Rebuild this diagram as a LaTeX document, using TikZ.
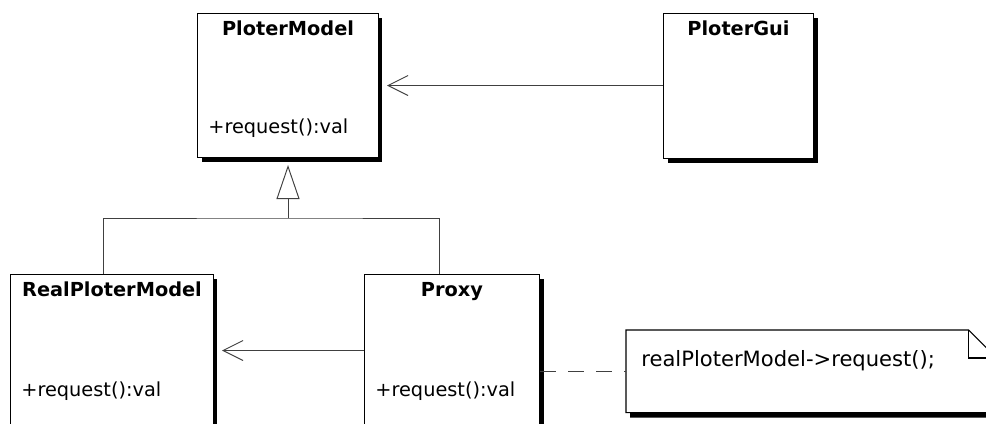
\documentclass[tikz,border=0pt]{standalone}
\usepackage{fontspec}
\setmainfont{DejaVu Sans}
\usetikzlibrary{arrows.meta,shadows,positioning,calc}

\begin{document}
\begin{tikzpicture}
	[
		x=0.02cm, y=-0.02cm,
		box/.style = {shape=rectangle, draw=black, line width=0.6pt, fill=white, anchor=north west, inner sep=0pt,
			drop shadow={shadow xshift=0.08cm, shadow yshift=-0.08cm, fill=black, opacity=1}},
		classname/.style = {font=\fontsize{11}{13}\selectfont\bfseries, inner sep=0pt, anchor=base},
		classop/.style = {font=\fontsize{11}{13}\selectfont, inner sep=0pt, anchor=base west},
		link/.style = {draw=black!75, line width=0.55pt},
		assoc/.style = {link, -{Straight Barb[length=0.4cm, width=0.4cm]}, shorten >=0.16cm},
		inherit/.style = {link, -{Triangle[open, fill=white, length=0.68cm, width=0.46cm]}, shorten >=0.14cm}
	]
	
	\useasboundingbox (0,0) rectangle (986,423);
	\clip (0,0) rectangle (986,423);
	
	% top row
	\node [box, minimum width=3.62cm, minimum height=2.88cm] (model) at (197,13) {};
	\node [classname] (modelname) at ($(model.north)+(0,22)$) {PloterModel};
	\node [classop] (modelop) at ($(model.north west)+(11,120)$) {+request():val};
	
	\node [box, minimum width=3cm, minimum height=2.9cm] (gui) at (663,13) {};
	\node [classname] (guiname) at ($(gui.north)+(0,22)$) {PloterGui};
	
	% bottom row
	\node [box, minimum width=4.06cm, minimum height=3.04cm] (real) at (10,274) {};
	\node [classname] (realname) at ($(real.north)+(0,22)$) {RealPloterModel};
	\node [classop] (realop) at ($(real.north west)+(11,122)$) {+request():val};
	
	\node [box, minimum width=3.5cm, minimum height=3.04cm] (proxy) at (364,274) {};
	\node [classname] (proxyname) at ($(proxy.north)+(0,22)$) {Proxy};
	\node [classop] (proxyop) at ($(proxy.north west)+(11,122)$) {+request():val};
	
	% note
	\node [shape=rectangle, inner sep=0pt, anchor=north west, minimum width=7.4cm, minimum height=1.64cm] (note) at (626,330) {};
	\fill [black] ([shift={(4,5)}]note.north west) -- ([shift={(-24,5)}]note.north east) -- ([shift={(4,33)}]note.north east) -- ([shift={(4,5)}]note.south east) -- ([shift={(4,5)}]note.south west) -- cycle;
	\draw [fill=white, line width=0.6pt] (note.north west) -- ([xshift=-0.56cm]note.north east) -- ([yshift=-0.56cm]note.north east) -- (note.south east) -- (note.south west) -- cycle;
	\draw [line width=0.6pt] ([xshift=-0.56cm]note.north east) |- ([yshift=-0.56cm]note.north east);
	\node [classop, font=\fontsize{12}{14}\selectfont] (notetext) at ($(note.north west)+(15,36)$) {realPloterModel->request();};
	
	% connectors
	\draw [assoc] (gui.west |- model.east) -- (model.east);
	\draw [assoc] (proxy.west |- real.east) -- (real.east);
	
	\coordinate (split) at (model.south |- 0,218);
	\draw [link] ([xshift=-0.17cm]real.north) |- (split) -| ([xshift=-0.25cm]proxy.north);
	\draw [inherit] (split) -- (model.south);
	
	\draw [link, dash pattern=on 0.32cm off 0.24cm] (proxy.east |- note.west) -- (note.west);
	
\end{tikzpicture}
\end{document}
